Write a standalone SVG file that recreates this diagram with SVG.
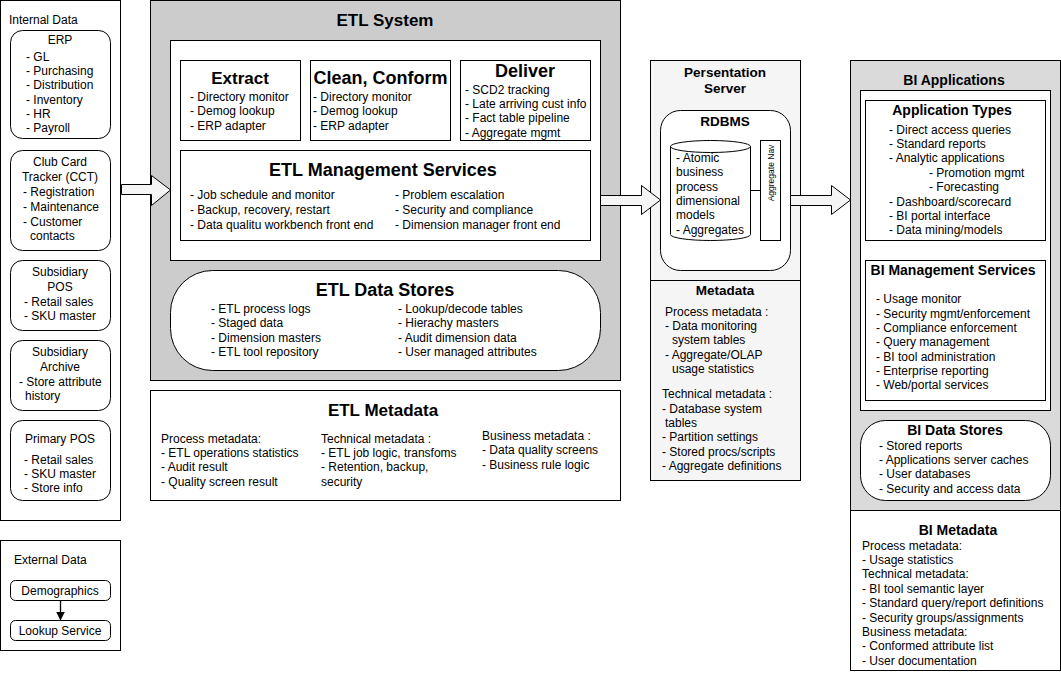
<svg xmlns="http://www.w3.org/2000/svg" width="1061" height="683" viewBox="0 0 1061 683">
<style>
text{font-family:"Liberation Sans",Arial,sans-serif;font-size:12px;fill:#000}
.c{text-anchor:middle}
.b{font-weight:bold}
.t17{font-size:17px;font-weight:bold;text-anchor:middle}
.t13{font-size:13.5px;font-weight:bold;text-anchor:middle}
.t14{font-size:14px;font-weight:bold;text-anchor:middle}
.box{fill:#fff;stroke:#000;stroke-width:1}
.lt{fill:#f5f5f5;stroke:#000;stroke-width:1}
.arr{fill:#f5f5f5;stroke:#000;stroke-width:1}
</style>
<defs>
<marker id="ah" markerWidth="9" markerHeight="9" refX="8" refY="4.5" orient="auto" markerUnits="userSpaceOnUse">
<path d="M0,0 L9,4.5 L0,9 Z" fill="#000"/>
</marker>
</defs>
<rect width="1061" height="683" fill="#fff"/>

<g id="internal-data">
<rect class="box" x="0.5" y="0.5" width="120" height="520"/>
<text x="9" y="24">Internal Data</text>
</g>
<g id="erp">
<rect class="box" x="10.5" y="30.5" width="100" height="108" rx="12"/>
<text class="c" x="60" y="44">ERP</text>
<text x="26" y="61">- GL</text>
<text x="26" y="75">- Purchasing</text>
<text x="26" y="89">- Distribution</text>
<text x="26" y="104">- Inventory</text>
<text x="26" y="118">- HR</text>
<text x="26" y="132">- Payroll</text>
</g>
<g id="cct">
<rect class="box" x="10.5" y="150.5" width="100" height="100" rx="12"/>
<text class="c" x="60" y="166">Club Card</text>
<text class="c" x="60" y="181">Tracker (CCT)</text>
<text x="23" y="196">- Registration</text>
<text x="23" y="211">- Maintenance</text>
<text x="23" y="226">- Customer</text>
<text x="30" y="240">contacts</text>
</g>
<g id="sub-pos">
<rect class="box" x="10.5" y="260.5" width="100" height="70" rx="12"/>
<text class="c" x="60" y="276">Subsidiary</text>
<text class="c" x="60" y="291">POS</text>
<text x="24" y="306">- Retail sales</text>
<text x="24" y="320">- SKU master</text>
</g>
<g id="sub-archive">
<rect class="box" x="10.5" y="340.5" width="100" height="70" rx="12"/>
<text class="c" x="60" y="356">Subsidiary</text>
<text class="c" x="60" y="371">Archive</text>
<text x="19" y="386">- Store attribute</text>
<text x="25" y="400">history</text>
</g>
<g id="primary-pos">
<rect class="box" x="10.5" y="420.5" width="100" height="80" rx="12"/>
<text class="c" x="60" y="443">Primary POS</text>
<text x="24" y="464">- Retail sales</text>
<text x="24" y="478">- SKU master</text>
<text x="24" y="492">- Store info</text>
</g>

<g id="external-data">
<rect class="box" x="0.5" y="540.5" width="120" height="110"/>
<text x="14" y="564">External Data</text>
</g>
<g id="demographics">
<rect class="box" x="10.5" y="580.5" width="100" height="20" rx="5"/>
<text class="c" x="60" y="595">Demographics</text>
</g>
<g id="lookup-service">
<rect class="box" x="10.5" y="620.5" width="100" height="20" rx="5"/>
<text class="c" x="60" y="635">Lookup Service</text>
</g>

<g id="etl-system">
<rect x="150.5" y="0.5" width="470" height="380" fill="#cccccc" stroke="#000"/>
<text class="t17" x="385" y="26">ETL System</text>
<rect class="box" x="170.5" y="40.5" width="430" height="220"/>
</g>
<g id="extract">
<rect class="box" x="180.5" y="60.5" width="120" height="80"/>
<text class="t17" x="240" y="84">Extract</text>
<text x="190" y="101">- Directory monitor</text>
<text x="190" y="115">- Demog lookup</text>
<text x="190" y="130">- ERP adapter</text>
</g>
<g id="clean-conform">
<rect class="box" x="310.5" y="60.5" width="140" height="80"/>
<text class="t17" x="380.5" y="84" style="font-size:18px">Clean, Conform</text>
<text x="313" y="101">- Directory monitor</text>
<text x="313" y="115">- Demog lookup</text>
<text x="313" y="130">- ERP adapter</text>
</g>
<g id="deliver">
<rect class="box" x="460.5" y="60.5" width="130" height="80"/>
<text class="t17" x="525" y="77" style="font-size:18px">Deliver</text>
<text x="465" y="94">- SCD2 tracking</text>
<text x="465" y="108">- Late arriving cust info</text>
<text x="465" y="122">- Fact table pipeline</text>
<text x="465" y="137">- Aggregate mgmt</text>
</g>
<g id="etl-mgmt">
<rect class="box" x="180.5" y="150.5" width="410" height="90"/>
<text class="t17" x="383" y="176" style="font-size:18px">ETL Management Services</text>
<text x="190" y="199">- Job schedule and monitor</text>
<text x="190" y="214">- Backup, recovery, restart</text>
<text x="190" y="229">- Data qualitu workbench front end</text>
<text x="395" y="199">- Problem escalation</text>
<text x="395" y="214">- Security and compliance</text>
<text x="395" y="229">- Dimension manager front end</text>
</g>
<g id="etl-data-stores">
<rect class="box" x="170.5" y="270.5" width="430" height="100" rx="42"/>
<text class="t17" x="385" y="296" style="font-size:18px">ETL Data Stores</text>
<text x="211" y="313">- ETL process logs</text>
<text x="211" y="327">- Staged data</text>
<text x="211" y="342">- Dimension masters</text>
<text x="211" y="356">- ETL tool repository</text>
<text x="398" y="313">- Lookup/decode tables</text>
<text x="398" y="327">- Hierachy masters</text>
<text x="398" y="342">- Audit dimension data</text>
<text x="398" y="356">- User managed attributes</text>
</g>
<g id="etl-metadata">
<rect class="box" x="150.5" y="390.5" width="470" height="110"/>
<text class="t17" x="383" y="416">ETL Metadata</text>
<text x="161" y="443">Process metadata:</text>
<text x="161" y="457">- ETL operations statistics</text>
<text x="161" y="471">- Audit result</text>
<text x="161" y="486">- Quality screen result</text>
<text x="321" y="443">Technical metadata :</text>
<text x="321" y="457">- ETL job logic, transfoms</text>
<text x="321" y="471">- Retention, backup,</text>
<text x="321" y="486">security</text>
<text x="482" y="440">Business metadata :</text>
<text x="482" y="454">- Data quality screens</text>
<text x="482" y="469">- Business rule logic</text>
</g>

<g id="presentation-server">
<rect class="lt" x="650.5" y="60.5" width="150" height="420"/>
<line x1="650.5" y1="280.5" x2="800.5" y2="280.5" stroke="#000"/>
<text class="t13" x="725" y="77">Persentation</text>
<text class="t13" x="725" y="93">Server</text>
</g>
<g id="rdbms">
<rect class="box" x="660.5" y="110.5" width="130" height="160" rx="20"/>
<text class="t13" x="725" y="126">RDBMS</text>
</g>
<g id="cylinder">
<path class="box" d="M670.5,146.5 A40,6 0 0 1 750.5,146.5 L750.5,234.5 A40,6 0 0 1 670.5,234.5 Z"/>
<path d="M670.5,146.5 A40,6 0 0 0 750.5,146.5" fill="none" stroke="#000"/>
<text x="676" y="162">- Atomic</text>
<text x="676" y="176">business</text>
<text x="676" y="191">process</text>
<text x="676" y="205">dimensional</text>
<text x="676" y="219">models</text>
<text x="676" y="234">- Aggregates</text>
</g>
<g id="aggregate-nav">
<rect class="box" x="760.5" y="140.5" width="20" height="100"/>
<text class="c" transform="translate(774,173) rotate(-90)" style="font-size:8.5px">Aggregate Nav</text>
</g>
<g id="pres-metadata">
<text class="t13" x="725" y="295">Metadata</text>
<text x="665" y="316">Process metadata :</text>
<text x="665" y="330">- Data monitoring</text>
<text x="672" y="344">system tables</text>
<text x="665" y="359">- Aggregate/OLAP</text>
<text x="672" y="373">usage statistics</text>
<text x="662" y="398">Technical metadata :</text>
<text x="662" y="413">- Database system</text>
<text x="665" y="427">tables</text>
<text x="662" y="441">- Partition settings</text>
<text x="662" y="456">- Stored procs/scripts</text>
<text x="662" y="470">- Aggregate definitions</text>
</g>

<g id="bi-applications">
<rect x="850.5" y="60.5" width="210" height="450" fill="#dadada" stroke="#000"/>
<text class="t14" x="954" y="85">BI Applications</text>
<rect class="box" x="860.5" y="90.5" width="190" height="320"/>
</g>
<g id="app-types">
<rect class="box" x="865.5" y="100.5" width="180" height="140"/>
<text class="t14" x="952" y="115">Application Types</text>
<text x="889" y="134">- Direct access queries</text>
<text x="889" y="148">- Standard reports</text>
<text x="889" y="162">- Analytic applications</text>
<text x="929" y="177">- Promotion mgmt</text>
<text x="929" y="191">- Forecasting</text>
<text x="889" y="206">- Dashboard/scorecard</text>
<text x="889" y="220">- BI portal interface</text>
<text x="889" y="234">- Data mining/models</text>
</g>
<g id="bi-mgmt">
<rect class="box" x="865.5" y="260.5" width="180" height="140"/>
<text class="t14" x="953" y="275">BI Management Services</text>
<text x="876" y="303">- Usage monitor</text>
<text x="876" y="318">- Security mgmt/enforcement</text>
<text x="876" y="332">- Compliance enforcement</text>
<text x="876" y="346">- Query management</text>
<text x="876" y="361">- BI tool administration</text>
<text x="876" y="375">- Enterprise reporting</text>
<text x="876" y="389">- Web/portal services</text>
</g>
<g id="bi-data-stores">
<rect class="box" x="860.5" y="420.5" width="190" height="80" rx="25"/>
<text class="t14" x="955" y="435">BI Data Stores</text>
<text x="879" y="450">- Stored reports</text>
<text x="879" y="464">- Applications server caches</text>
<text x="879" y="478">- User databases</text>
<text x="879" y="493">- Security and access data</text>
</g>
<g id="bi-metadata">
<rect class="box" x="850.5" y="510.5" width="210" height="160"/>
<text class="t14" x="958" y="535">BI Metadata</text>
<text x="862" y="550">Process metadata:</text>
<text x="862" y="564">- Usage statistics</text>
<text x="862" y="578">Technical metadata:</text>
<text x="862" y="593">- BI tool semantic layer</text>
<text x="862" y="607">- Standard query/report definitions</text>
<text x="862" y="622">- Security groups/assignments</text>
<text x="862" y="636">Business metadata:</text>
<text x="862" y="650">- Conformed attribute list</text>
<text x="862" y="665">- User documentation</text>
</g>

<g id="connectors">
<line x1="60.5" y1="600.5" x2="60.5" y2="619.5" stroke="#000" stroke-width="1.3" marker-end="url(#ah)"/>
<path class="arr" d="M121.5,184.5 L151.5,184.5 L151.5,175.5 L170.5,190 L151.5,205.5 L151.5,194.5 L121.5,194.5 Z"/>
<path class="arr" d="M600.5,195.5 L641.5,195.5 L641.5,185.5 L660.5,200 L641.5,214.5 L641.5,205.5 L600.5,205.5 Z"/>
<path class="arr" d="M790.5,195.5 L831.5,195.5 L831.5,185.5 L850.5,200 L831.5,214.5 L831.5,205.5 L790.5,205.5 Z"/>
<line x1="750.5" y1="190.5" x2="760.5" y2="190.5" stroke="#000"/>
</g>
</svg>
